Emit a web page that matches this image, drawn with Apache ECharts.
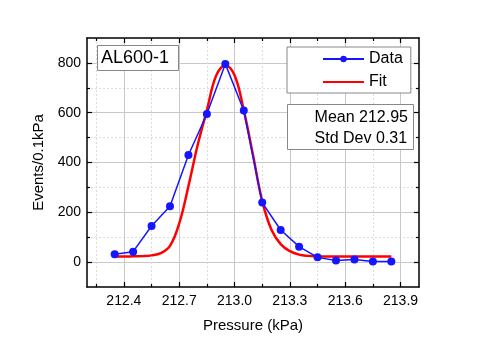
<!DOCTYPE html>
<html>
<head>
<meta charset="utf-8">
<script src="https://cdn.jsdelivr.net/npm/echarts@6/dist/echarts.min.js"></script>
<style>html,body{margin:0;padding:0;background:#fff;}#c{width:488px;height:345px;}</style>
</head>
<body>
<div id="c"></div>
<script>
// ---- data ----
const dataX = [212.35,212.45,212.55,212.65,212.75,212.85,212.95,213.05,213.15,213.25,213.35,213.45,213.55,213.65,213.75,213.85];
const dataY = [32,42,145,224,430,595,796,609,239,129,62,19,6,10,2,2];
const fitX = [212.35,212.40,212.45,212.50,212.55,212.60,212.65,212.70,212.75,212.80,212.85,212.90,212.95,213.00,213.05,213.10,213.15,213.20,213.25,213.30,213.35,213.40,213.45,213.50,213.55,213.60,213.65,213.70,213.75,213.80,213.85];
const fitY = [22,22,23,24,27,36,65,155,305,470,610,748,790,750,610,430,245,130,72,44,30,25,23,22,22,22,22,22,22,22,22];
const xMajorTicks = [212.4,212.7,213.0,213.3,213.6,213.9];
const xMinorTicks = [212.25,212.55,212.85,213.15,213.45,213.75];
const yMajorTicks = [0,200,400,600,800];
const yMinorTicks = [100,300,500,700];
const seriesNames = ['Data','Fit'];
const statsLines = ['Mean 212.95','Std Dev 0.31'];
const panelLabel = 'AL600-1';

const FONT = 'Liberation Sans, Arial, sans-serif';
const chart = echarts.init(document.getElementById('c'), null, {renderer:'canvas'});

function xAx(pos, ticks, major, extra) {
  return Object.assign({
    type:'value', position:pos, min:212.2, max:214.0,
    axisLine:{show:major, onZero:false, lineStyle:{color:'#000', width:1.5}},
    axisTick:{show:true, inside:true, length:major?5:3, customValues:ticks, lineStyle:{color:'#000', width:1.2}},
    axisLabel:{show:false},
    splitLine:{show:false}
  }, extra||{});
}
function yAx(pos, ticks, major, extra) {
  return Object.assign({
    type:'value', position:pos, min:-100, max:900,
    axisLine:{show:major, onZero:false, lineStyle:{color:'#000', width:1.5}},
    axisTick:{show:true, inside:true, length:major?5:3, customValues:ticks, lineStyle:{color:'#000', width:1.2}},
    axisLabel:{show:false},
    splitLine:{show:false}
  }, extra||{});
}

const option = {
  backgroundColor:'#fff',
  animation:false,
  textStyle:{fontFamily:FONT},
  grid:{left:87, right:69, top:38, bottom:58, containLabel:false},
  title:{
    text:panelLabel, left:97, top:45,
    padding:[4,10,4,4],
    borderColor:'#888', borderWidth:1, backgroundColor:'#fff',
    textStyle:{fontSize:18, fontWeight:'normal', color:'#000', fontFamily:FONT}
  },
  legend:{
    data:[
      {name:seriesNames[0]},
      {name:seriesNames[1], itemStyle:{opacity:0}}
    ],
    orient:'vertical', left:287, top:47,
    padding:[4,8,3,35], itemGap:7, itemWidth:41, itemHeight:8,
    borderColor:'#888', borderWidth:1, backgroundColor:'#fff',
    textStyle:{fontSize:16, color:'#000', fontFamily:FONT}
  },
  xAxis:[
    xAx('bottom', xMajorTicks, true, {
      name:'Pressure (kPa)', nameLocation:'middle', nameGap:31,
      nameTextStyle:{fontSize:15, color:'#000', fontFamily:FONT},
      axisLabel:{show:true, customValues:xMajorTicks, margin:7, fontSize:14, color:'#000', fontFamily:FONT,
        formatter:v=>Number(v).toFixed(1)},
      splitLine:{show:true, lineStyle:{color:'#c8c8c8', width:1}}
    }),
    xAx('bottom', xMinorTicks, false, {splitLine:{show:true, lineStyle:{color:'#dcdcdc', width:1, type:[2,2]}}}),
    xAx('top', xMajorTicks, true),
    xAx('top', xMinorTicks, false)
  ],
  yAxis:[
    yAx('left', yMajorTicks, true, {
      name:'Events/0.1kPa', nameLocation:'middle', nameGap:34,
      nameTextStyle:{fontSize:15, color:'#000', fontFamily:FONT},
      axisLabel:{show:true, customValues:yMajorTicks, margin:6, fontSize:14, color:'#000', fontFamily:FONT},
      splitLine:{show:true, lineStyle:{color:'#c8c8c8', width:1}}
    }),
    yAx('left', yMinorTicks, false, {splitLine:{show:true, lineStyle:{color:'#dcdcdc', width:1, type:[2,2]}}}),
    yAx('right', yMajorTicks, true),
    yAx('right', yMinorTicks, false)
  ],
  series:[
    {
      name:seriesNames[0], type:'line', xAxisIndex:0, yAxisIndex:0,
      data:dataX.map((x,i)=>[x,dataY[i]]),
      symbol:'circle', symbolSize:8, showAllSymbol:true,
      itemStyle:{color:'#1515ff'},
      lineStyle:{color:'#1515ff', width:1.5}, z:3
    },
    {
      name:seriesNames[1], type:'line', xAxisIndex:0, yAxisIndex:0,
      data:fitX.map((x,i)=>[x,fitY[i]]),
      showSymbol:false, symbol:'none', smooth:0.4,
      itemStyle:{color:'#ff0000'},
      lineStyle:{color:'#ff0000', width:2.5}, z:2
    }
  ],
  graphic:[
    {type:'rect', left:287, top:104, shape:{width:126, height:45},
     style:{fill:'#fff', stroke:'#888', lineWidth:1}, z:10},
    {type:'text', right:488-408, top:107, z:11,
     style:{text:statsLines.join('\n'), fontSize:16, lineHeight:21, fill:'#000', align:'right', fontFamily:FONT}}
  ]
};
chart.setOption(option);
</script>
</body>
</html>
